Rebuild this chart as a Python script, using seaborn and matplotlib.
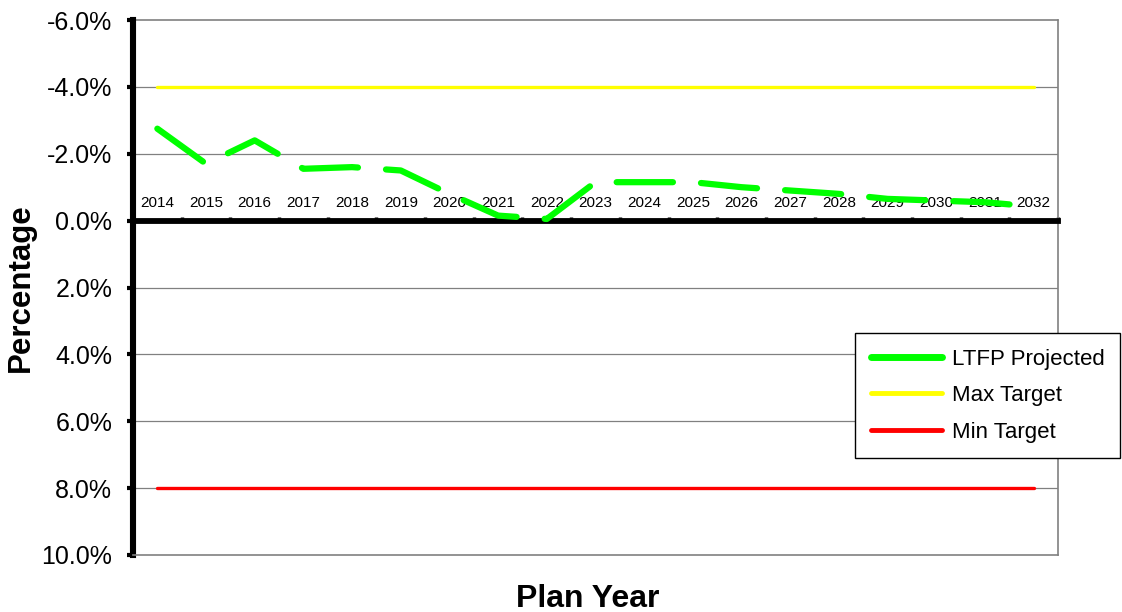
import matplotlib
matplotlib.use("Agg")
import matplotlib.pyplot as plt
from matplotlib.ticker import FuncFormatter, FixedLocator
from matplotlib.lines import Line2D
import seaborn as sns
import pandas as pd
import numpy as np

# Plan years and projected ratio (%), plus the target band
years = [2014, 2015, 2016, 2017, 2018, 2019, 2020, 2021, 2022, 2023,
         2024, 2025, 2026, 2027, 2028, 2029, 2030, 2031, 2032]
ltfp_projected = [-2.75, -1.7, -2.4, -1.55, -1.6, -1.5, -0.8, -0.15, -0.05, -1.15,
                  -1.15, -1.15, -1.0, -0.9, -0.8, -0.65, -0.6, -0.55, -0.42]
max_target = [-4.0] * len(years)
min_target = [8.0] * len(years)
y_ticks = [-6, -4, -2, 0, 2, 4, 6, 8, 10]
series_names = ["LTFP Projected", "Max Target", "Min Target"]

sns.set_style("white")
plt.rcParams["font.family"] = ["Liberation Sans", "DejaVu Sans"]
plt.rcParams["text.color"] = "black"
plt.rcParams["axes.labelcolor"] = "black"
plt.rcParams["xtick.color"] = "black"
plt.rcParams["ytick.color"] = "black"

df = pd.DataFrame({
    "pos": np.arange(len(years)),
    "LTFP Projected": ltfp_projected,
    "Max Target": max_target,
    "Min Target": min_target,
})

fig = plt.figure(figsize=(11.22, 6.12), dpi=100)
ax = fig.add_axes([133 / 1122, 1 - 555 / 612, (1058 - 133) / 1122, (555 - 20) / 612])

sns.lineplot(data=df, x="pos", y="Max Target", ax=ax, color="#FFFF00", lw=2.4,
             zorder=3, legend=False)
sns.lineplot(data=df, x="pos", y="Min Target", ax=ax, color="#FF0000", lw=2.4,
             zorder=3, legend=False)
sns.lineplot(data=df, x="pos", y="LTFP Projected", ax=ax, color="#00FF00", lw=4.5,
             linestyle=(0, (9, 4.5)), dash_capstyle="round", solid_capstyle="round",
             zorder=4, legend=False)

ax.set_xlim(-0.5, len(years) - 0.5)
ax.set_ylim(10, -6)

# horizontal gridlines
for v in y_ticks[1:-1]:
    ax.axhline(v, color="#808080", lw=0.9, zorder=1)
ax.axhline(-6, color="#808080", lw=1.2, zorder=1, clip_on=False)

# category axis sits on the zero line, labels above it
ax.xaxis.set_ticks_position("top")
ax.spines["top"].set_position(("data", 0))
ax.spines["top"].set_color("black")
ax.spines["top"].set_linewidth(4.2)
ax.xaxis.set_major_locator(FixedLocator(np.arange(-0.5, len(years), 1.0)))
ax.xaxis.set_major_formatter(FuncFormatter(lambda v, p: ""))
ax.xaxis.set_minor_locator(FixedLocator(np.arange(len(years))))
ax.xaxis.set_minor_formatter(FuncFormatter(lambda v, p: str(years[int(round(v))])))
ax.tick_params(axis="x", which="major", direction="out", length=3, width=2.5, color="black")
ax.tick_params(axis="x", which="minor", length=0, pad=8, labelsize=11)

ax.spines["left"].set_color("black")
ax.spines["left"].set_linewidth(4.4)
ax.spines["right"].set_color("#808080")
ax.spines["right"].set_linewidth(1.2)
ax.spines["bottom"].set_color("#808080")
ax.spines["bottom"].set_linewidth(1.2)

ax.yaxis.set_major_locator(FixedLocator(y_ticks))
ax.yaxis.set_major_formatter(FuncFormatter(lambda v, p: f"{v:.1f}%"))
ax.tick_params(axis="y", direction="out", length=4, width=3, color="black",
               labelsize=18, pad=11, left=True)

ax.set_ylabel("Percentage", fontsize=22.5, fontweight="bold", labelpad=4)
ax.xaxis.set_label_position("bottom")
ax.set_xlabel("Plan Year", fontsize=23, fontweight="bold")
ax.xaxis.set_label_coords(0.492, -0.054)

leg_handles = [
    Line2D([], [], color="#00FF00", lw=5, solid_capstyle="round"),
    Line2D([], [], color="#FFFF00", lw=3.5, solid_capstyle="round"),
    Line2D([], [], color="#FF0000", lw=3.5, solid_capstyle="round"),
]
leg = fig.legend(leg_handles, series_names,
                 loc="upper left", bbox_to_anchor=(855 / 1122, 1 - 333 / 612),
                 borderaxespad=0, fontsize=16, frameon=True, fancybox=False,
                 framealpha=1, edgecolor="black", handlelength=3.2,
                 handletextpad=0.45, labelspacing=0.7, borderpad=0.7)
leg.get_frame().set_linewidth(1.0)

fig.savefig("out.png", dpi=100)
